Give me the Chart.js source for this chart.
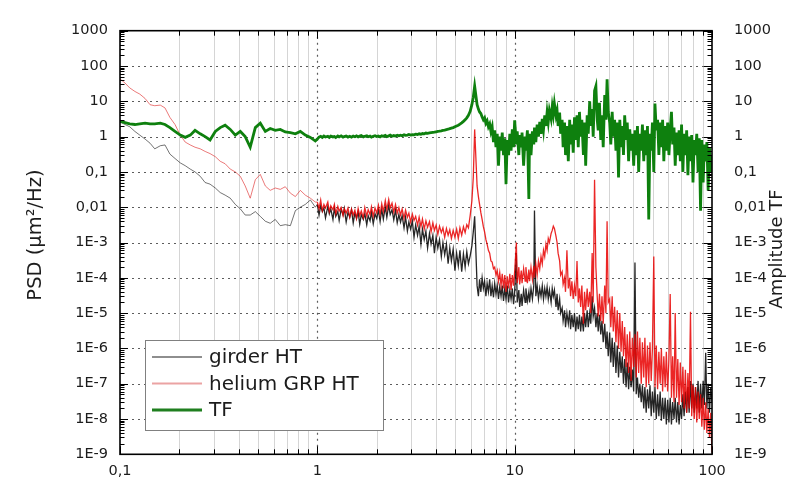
<!DOCTYPE html>
<html>
<head>
<meta charset="utf-8">
<script src="https://cdn.jsdelivr.net/npm/chart.js@4.4.1/dist/chart.umd.min.js"></script>
<style>
  html, body { margin: 0; padding: 0; background: #fff; }
  canvas { display: block; }
</style>
</head>
<body>
<canvas id="psd" width="798" height="485" style="width:798px;height:485px"></canvas>
<script>
// Frequency axis (Hz): coarse below 1 Hz, finer above
const freq = [
  0.100, 0.106, 0.112, 0.119, 0.126, 0.134, 0.142, 0.150, 0.160, 0.169,
  0.179, 0.190, 0.202, 0.214, 0.227, 0.240, 0.255, 0.270, 0.286, 0.304,
  0.322, 0.341, 0.362, 0.384, 0.407, 0.431, 0.457, 0.485, 0.514, 0.545,
  0.577, 0.612, 0.649, 0.688, 0.730, 0.774, 0.820, 0.869, 0.922, 0.977,
  1.00, 1.02, 1.04, 1.06, 1.08, 1.10, 1.13, 1.15, 1.17, 1.20,
  1.22, 1.24, 1.27, 1.29, 1.32, 1.35, 1.37, 1.40, 1.43, 1.46,
  1.49, 1.52, 1.55, 1.58, 1.61, 1.64, 1.67, 1.71, 1.74, 1.78,
  1.81, 1.85, 1.88, 1.92, 1.96, 2.00, 2.04, 2.08, 2.12, 2.16,
  2.21, 2.25, 2.30, 2.34, 2.39, 2.44, 2.49, 2.54, 2.59, 2.64,
  2.69, 2.75, 2.80, 2.86, 2.91, 2.97, 3.03, 3.09, 3.15, 3.22,
  3.28, 3.35, 3.41, 3.48, 3.55, 3.62, 3.70, 3.77, 3.85, 3.92,
  4.00, 4.08, 4.16, 4.25, 4.33, 4.42, 4.51, 4.60, 4.69, 4.78,
  4.88, 4.98, 5.08, 5.18, 5.28, 5.39, 5.50, 5.61, 5.72, 5.83,
  5.95, 6.07, 6.17, 6.27,
  6.45, 6.55, 6.64, 6.74, 6.84, 6.94, 7.04, 7.15, 7.25, 7.36,
  7.47, 7.58, 7.69, 7.81, 7.92, 8.04, 8.16, 8.28, 8.40, 8.53,
  8.65, 8.78, 8.91, 9.04, 9.17, 9.31, 9.45, 9.59, 9.73, 9.87,
  10.0, 10.2, 10.3, 10.5, 10.6, 10.8, 10.9, 11.1, 11.3, 11.4,
  11.6, 11.8, 11.9, 12.1, 12.3, 12.5, 12.6, 12.8, 13.0, 13.2,
  13.4, 13.6, 13.8, 14.0, 14.2, 14.4, 14.6, 14.8, 15.0, 15.3,
  15.5, 15.7, 15.9, 16.2, 16.4, 16.6, 16.9, 17.1, 17.4, 17.6,
  17.9, 18.1, 18.4, 18.7, 19.0, 19.2, 19.5, 19.8, 20.1, 20.4,
  20.7, 21.0, 21.3, 21.6, 21.9, 22.3, 22.6, 22.9, 23.3, 23.6,
  24.0, 24.3, 24.7, 25.0, 25.4, 25.8, 26.2, 26.5, 26.9, 27.3,
  27.7, 28.1, 28.6, 29.0, 29.4, 29.8, 30.3, 30.7, 31.2, 31.6,
  32.1, 32.6, 33.1, 33.6, 34.1, 34.6, 35.1, 35.6, 36.1, 36.7,
  37.2, 37.8, 38.3, 38.9, 39.5, 40.1, 40.7, 41.3, 41.9, 42.5,
  43.1, 43.8, 44.4, 45.1, 45.7, 46.4, 47.1, 47.8, 48.5, 49.2,
  49.9, 50.7, 51.4, 52.2, 53.0, 53.8, 54.6, 55.4, 56.2, 57.0,
  57.9, 58.7, 59.6, 60.5, 61.4, 62.3, 63.2, 64.2, 65.1, 66.1,
  67.1, 68.1, 69.1, 70.1, 71.2, 72.2, 73.3, 74.4, 75.5, 76.6,
  77.8, 78.9, 80.1, 81.3, 82.5, 83.7, 85.0, 86.2, 87.5, 88.8,
  90.2, 91.5, 92.9, 94.2, 95.6, 97.1, 98.5, 100
];

// PSD of the girder, µm²/Hz
const girderHT = [
  2.6, 2.2, 1.9, 1.4, 1.1, 0.85, 0.65, 0.45, 0.55, 0.58,
  0.32, 0.24, 0.18, 0.15, 0.12, 0.1, 0.075, 0.05, 0.045, 0.035,
  0.026, 0.022, 0.018, 0.012, 0.009, 0.006, 0.006, 0.0075, 0.0055, 0.004,
  0.0035, 0.0045, 0.003, 0.0032, 0.003, 0.008, 0.01, 0.012, 0.016, 0.01,
  0.012, 0.006, 0.011, 0.0075, 0.0095, 0.005, 0.0105, 0.0065, 0.009, 0.0045,
  0.0095, 0.0055, 0.0075, 0.0042, 0.0088, 0.006, 0.0092, 0.0038, 0.0072, 0.0052,
  0.0085, 0.0036, 0.0068, 0.0048, 0.0074, 0.0033, 0.0062, 0.0045, 0.0066, 0.0032,
  0.0058, 0.0041, 0.0072, 0.0034, 0.0065, 0.0048, 0.0082, 0.0039, 0.0088, 0.0046,
  0.0102, 0.0052, 0.0115, 0.0062, 0.0085, 0.0044, 0.0082, 0.0036, 0.0062, 0.0038,
  0.0058, 0.0026, 0.0052, 0.0021, 0.0038, 0.0024, 0.0041, 0.0014, 0.0031, 0.0016,
  0.0029, 0.0009, 0.0024, 0.0012, 0.0021, 0.0007, 0.0018, 0.0009, 0.0016, 0.0005,
  0.0014, 0.0007, 0.0012, 0.0004, 0.001, 0.00045, 0.0009, 0.00025, 0.0007, 0.0003,
  0.00065, 0.00016, 0.0005, 0.00022, 0.0006, 0.00015, 0.00048, 0.0002, 0.00055, 0.00025,
  0.00042, 0.0008, 0.002, 0.0055,
  6e-5, 3e-5, 9e-5, 4e-5, 1e-4, 5e-5, 8e-5, 3e-5, 7e-5, 4e-5,
  9e-5, 3e-5, 6e-5, 2.8e-5, 7e-5, 3.5e-5, 6e-5, 2.5e-5, 5.5e-5, 3e-5,
  6e-5, 2.2e-5, 5e-5, 2.5e-5, 6e-5, 2e-5, 4.5e-5, 2.5e-5, 5e-5, 1.8e-5,
  4e-5, 5e-4, 2e-5, 4.5e-5, 1.5e-5, 3.5e-5, 1.6e-5, 4.5e-5, 2e-5, 5e-5,
  2.2e-5, 4e-5, 2e-5, 5e-5, 2.5e-5, 6e-5, 0.008, 3e-5, 6e-5, 2.5e-5,
  5e-5, 3e-5, 6e-5, 2.5e-5, 5e-5, 3e-5, 5.5e-5, 2.5e-5, 4.5e-5, 2e-5,
  5e-5, 3e-5, 4.5e-5, 1.5e-5, 3.5e-5, 1.2e-5, 2.5e-5, 1e-5, 1.4e-5, 6e-6,
  1.2e-5, 4e-6, 1e-5, 5e-6, 1.2e-5, 3.5e-6, 9e-6, 4e-6, 1e-5, 3e-6,
  8e-6, 3.5e-6, 9e-6, 3e-6, 8e-6, 3e-6, 1e-5, 4e-6, 1.2e-5, 4e-6,
  1e-5, 5e-6, 3e-5, 8e-6, 1.4e-5, 4e-6, 1e-5, 3e-6, 9e-6, 2.5e-6,
  6e-6, 1.5e-6, 5e-6, 1e-6, 3e-6, 6e-7, 2.8e-6, 4e-7, 2e-6, 3e-7,
  1.5e-6, 2e-7, 1.2e-6, 1.5e-7, 8e-7, 2e-7, 6e-7, 1e-7, 5e-7, 8e-8,
  4e-7, 7e-8, 3e-7, 8e-8, 2.5e-7, 6e-8, 2.7e-4, 5e-8, 1.5e-7, 4e-8,
  1e-7, 3e-8, 9e-8, 2e-8, 8e-8, 1.5e-8, 7e-8, 2e-8, 9e-8, 1.2e-8,
  6e-8, 1.5e-8, 8e-8, 1e-8, 5e-8, 1.2e-8, 6e-8, 9e-9, 4e-8, 1e-8,
  4e-8, 7e-9, 3.5e-8, 8e-9, 4e-8, 7e-9, 3e-8, 1e-8, 4e-8, 8e-9,
  3e-8, 7e-9, 2.5e-8, 1e-8, 5e-8, 1.2e-8, 6e-8, 1.5e-8, 8e-8, 1.5e-8,
  1.2e-7, 2e-8, 1e-7, 1.5e-8, 8e-8, 2e-8, 1.2e-7, 1.5e-8, 1e-7, 2e-8,
  1.2e-7, 2.5e-8, 7.5e-7, 2e-8, 1e-7, 1.5e-8, 8e-8, 3e-8
];

// PSD of the helium GRP, µm²/Hz
const heliumHT = [
  43, 33, 24, 19, 16, 12, 8, 7.5, 7.8, 6.5,
  3.5, 2.2, 1.1, 0.7, 0.58, 0.5, 0.45, 0.38, 0.33, 0.27,
  0.2, 0.17, 0.12, 0.1, 0.075, 0.04, 0.018, 0.06, 0.085, 0.04,
  0.03, 0.035, 0.032, 0.038, 0.025, 0.02, 0.03, 0.022, 0.018, 0.014,
  0.014, 0.009, 0.016, 0.008, 0.012, 0.0095, 0.014, 0.0075, 0.011, 0.0085,
  0.012, 0.0065, 0.0105, 0.0078, 0.0098, 0.0058, 0.0092, 0.0068, 0.0095, 0.0052,
  0.0088, 0.006, 0.0082, 0.0048, 0.0092, 0.0058, 0.0078, 0.005, 0.0098, 0.0056,
  0.0085, 0.0062, 0.0102, 0.0055, 0.0095, 0.0068, 0.0115, 0.0062, 0.0125, 0.0075,
  0.0155, 0.0085, 0.0165, 0.0095, 0.013, 0.0072, 0.0118, 0.0068, 0.0098, 0.006,
  0.0088, 0.0048, 0.0082, 0.0052, 0.0068, 0.0038, 0.0064, 0.0042, 0.0055, 0.0031,
  0.0052, 0.0028, 0.0046, 0.0024, 0.0041, 0.0027, 0.0039, 0.002, 0.0036, 0.0022,
  0.0031, 0.0017, 0.0029, 0.0019, 0.0026, 0.0014, 0.0025, 0.0016, 0.0023, 0.0013,
  0.0022, 0.0014, 0.0024, 0.0013, 0.0026, 0.0016, 0.0028, 0.0019, 0.0032, 0.0026,
  0.0058, 0.015, 0.07, 1.6,
  0.04, 0.02, 0.012, 0.007, 0.0045, 0.0028, 0.002, 0.0012, 0.0009, 0.0006,
  0.0005, 0.0003, 0.00028, 0.00018, 0.0002, 0.00012, 0.00016, 8e-5, 0.00014, 6e-5,
  0.00013, 5e-5, 0.00012, 4e-5, 0.00011, 5e-5, 0.00013, 4.5e-5, 0.00012, 6e-5,
  0.00015, 0.001, 7e-5, 0.0002, 6.5e-5, 0.00016, 7e-5, 0.00018, 8e-5, 0.0002,
  7e-5, 0.00017, 8e-5, 0.0002, 9e-5, 0.00022, 0.0001, 0.00025, 0.00012, 0.0003,
  0.00018, 0.0004, 0.00025, 0.0006, 0.0004, 0.0009, 0.0006, 0.0013, 0.001, 0.0018,
  0.0022, 0.0029, 0.0025, 0.0015, 0.001, 0.0005, 0.0003, 0.00012, 0.00015, 6.5e-5,
  0.0001, 4e-5, 0.0006, 5e-5, 0.0001, 3e-5, 8e-5, 2.5e-5, 6e-5, 3e-5,
  0.0003, 2e-5, 5e-5, 1.5e-5, 6e-5, 5e-6, 4e-5, 1.2e-5, 5e-5, 1.5e-5,
  4e-5, 1e-5, 0.0005, 2e-5, 0.06, 0.0002, 3e-5, 8e-6, 3.5e-5, 6e-6,
  3e-5, 5e-6, 6e-5, 1e-5, 0.004, 2e-5, 2.5e-5, 4e-6, 3e-5, 3e-6,
  1.5e-5, 1.5e-6, 1.2e-5, 1e-6, 1e-5, 8e-7, 6e-6, 6e-7, 4e-6, 3e-7,
  2.5e-6, 2e-7, 3e-6, 1.2e-7, 2e-6, 3e-7, 2.5e-6, 1.5e-7, 3e-6, 2e-7,
  2e-6, 1e-7, 1.5e-6, 1.5e-7, 2e-6, 8e-8, 1.2e-6, 1e-7, 1.5e-6, 1.2e-7,
  1e-6, 4e-4, 8e-8, 1.2e-6, 7e-8, 8e-7, 1e-7, 1e-6, 6e-8, 6e-7,
  8e-8, 8e-7, 6e-8, 5e-7, 3.5e-5, 4e-8, 6e-7, 3e-8, 1e-5, 4e-8,
  5e-7, 2.5e-8, 4e-7, 3e-8, 3e-7, 2e-8, 2.5e-7, 1.5e-8, 2e-7, 2e-8,
  1.1e-5, 1.2e-8, 9e-8, 1e-8, 8e-8, 8e-9, 6e-8, 1e-8, 5e-8, 6e-9,
  4e-8, 5e-9, 3e-8, 4e-9, 2e-8, 3e-9, 1.5e-8, 1.1e-9
];

// Transfer function amplitude
const tf = [
  2.7, 2.5, 2.3, 2.2, 2.3, 2.4, 2.3, 2.3, 2.4, 2.2,
  1.8, 1.4, 1.1, 0.95, 1.1, 1.5, 1.2, 1.0, 0.8, 1.4,
  1.8, 2.1, 1.6, 1.1, 1.4, 1.0, 0.5, 1.8, 2.4, 1.4,
  1.7, 1.5, 1.6, 1.35, 1.3, 1.2, 1.4, 1.1, 0.95, 0.75,
  0.85, 0.97, 1.02, 0.95, 1.04, 0.97, 1.02, 0.95, 1.03, 0.98,
  1.01, 0.94, 1.04, 0.98, 1.05, 0.96, 1.0, 1.04, 0.97, 1.02,
  0.96, 1.03, 0.99, 1.05, 0.98, 1.03, 1.07, 0.98, 1.02, 1.06,
  0.99, 1.03, 0.97, 1.02, 1.06, 1.0, 1.04, 0.98, 1.05, 1.02,
  1.08, 1.0, 1.05, 1.1, 1.02, 1.07, 1.04, 1.09, 1.05, 1.1,
  1.06, 1.12, 1.08, 1.1, 1.15, 1.1, 1.14, 1.12, 1.17, 1.15,
  1.2, 1.17, 1.22, 1.2, 1.26, 1.24, 1.28, 1.3, 1.32, 1.34,
  1.37, 1.4, 1.42, 1.46, 1.5, 1.53, 1.58, 1.62, 1.68, 1.74,
  1.8, 1.9, 2.0, 2.1, 2.25, 2.45, 2.7, 3.0, 3.4, 4.0,
  5.2, 8.0, 13, 27,
  8, 6, 5, 4.5, 3.6, 3.0, 3.4, 2.4, 2.8, 1.9,
  2.3, 1.4, 1.9, 0.7, 1.5, 0.5, 1.2, 0.15, 1.0, 0.4,
  1.3, 0.3, 0.9, 0.045, 0.8, 0.3, 1.2, 0.4, 1.6, 0.5,
  2.9, 0.6, 1.4, 0.3, 1.1, 0.5, 1.3, 0.15, 1.0, 0.4,
  1.5, 0.017, 1.2, 0.3, 1.4, 0.6, 1.8, 0.7, 2.2, 1.0,
  2.6, 1.2, 3.2, 1.6, 4.0, 2.0, 4.8, 2.6, 5.5, 3.2,
  7.0, 4.2, 8.6, 4.0, 5.5, 2.0, 4.8, 1.2, 3.0, 0.5,
  2.5, 0.3, 2.0, 0.2, 3.0, 0.6, 2.2, 0.35, 3.5, 0.8,
  4.0, 0.5, 5.0, 1.0, 3.0, 0.3, 2.5, 0.15, 4.0, 1.2,
  10, 2.0, 6.0, 1.0, 20, 27, 3.0, 1.5, 9.0, 0.8,
  4.0, 0.5, 15, 3.0, 42, 5.0, 2.5, 0.6, 5.0, 1.0,
  3.0, 0.4, 2.5, 0.07, 3.0, 0.5, 2.0, 0.3, 4.0, 0.8,
  2.5, 0.2, 1.6, 0.4, 1.2, 0.15, 1.5, 0.3, 2.0, 0.1,
  1.2, 0.4, 2.2, 0.2, 1.5, 0.3, 2.0, 0.0045, 1.2, 0.4,
  2.5, 0.1, 8.6, 1.5, 3.0, 0.3, 2.5, 0.5, 3.0, 0.2,
  2.0, 0.4, 2.5, 0.3, 1.5, 5.0, 0.6, 1.8, 0.15, 1.3,
  0.3, 1.5, 0.2, 2.2, 0.1, 1.2, 0.3, 1.5, 0.08, 1.0,
  0.2, 1.1, 0.05, 0.8, 0.3, 1.2, 0.1, 0.9, 0.008, 0.8,
  0.05, 0.6, 0.2, 0.7, 0.03, 0.5, 0.1, 0.3
];

const seriesNames = ['girder HT', 'helium GRP HT', 'TF'];

const xTickValues = [0.1, 1, 10, 100];
const xTickLabels = ['0,1', '1', '10', '100'];
const yTickValues = [1e3, 1e2, 1e1, 1, 1e-1, 1e-2, 1e-3, 1e-4, 1e-5, 1e-6, 1e-7, 1e-8, 1e-9];
const yTickLabels = ['1000', '100', '10', '1', '0,1', '0,01', '1E-3', '1E-4', '1E-5', '1E-6', '1E-7', '1E-8', '1E-9'];

const leftTitle = 'PSD (µm²/Hz)';
const rightTitle = 'Amplitude TF';

const FONT = 'DejaVu Sans';
const TEXT = '#1c1c1c';

function labelFor(values, labels, v) {
  for (let i = 0; i < values.length; i++) {
    if (Math.abs(Math.log10(v) - Math.log10(values[i])) < 1e-6) return labels[i];
  }
  return '';
}

function points(ys) {
  return freq.map((f, i) => ({ x: f, y: ys[i] }));
}

// sparse low-frequency stretch drawn lighter and thinner than the dense part above 1 Hz
function tone(light, dense) {
  return (c) => (c.p0.parsed.x < 1 ? light : dense);
}

const decadeTicks = (values) => (scale) => {
  scale.ticks = values.map(v => ({ value: v }));
};

// Grid, inward tick marks, frame, legend and axis titles
const framePlugin = {
  id: 'frame',
  beforeDatasetsDraw(chart) {
    const { ctx, chartArea: a, scales: { x, y } } = chart;
    ctx.save();
    ctx.strokeStyle = '#d5d5d5';
    ctx.lineWidth = 1;
    ctx.beginPath();
    [0.1, 1, 10].forEach(d => {
      for (let m = 2; m <= 9; m++) {
        const px = Math.round(x.getPixelForValue(m * d)) + 0.5;
        ctx.moveTo(px, a.top);
        ctx.lineTo(px, a.bottom);
      }
    });
    ctx.stroke();
    ctx.setLineDash([2, 4]);
    ctx.strokeStyle = '#5c5c5c';
    ctx.lineWidth = 1.2;
    ctx.beginPath();
    [1, 10].forEach(v => {
      const px = Math.round(x.getPixelForValue(v)) + 0.5;
      ctx.moveTo(px, a.top);
      ctx.lineTo(px, a.bottom);
    });
    yTickValues.forEach(v => {
      if (v >= 1e3 || v <= 1e-9) return;
      const py = Math.round(y.getPixelForValue(v)) + 0.5;
      ctx.moveTo(a.left, py);
      ctx.lineTo(a.right, py);
    });
    ctx.stroke();
    ctx.restore();
  },
  afterDatasetsDraw(chart) {
    const { ctx, chartArea: a, scales: { x, y } } = chart;
    ctx.save();
    ctx.strokeStyle = '#000';
    ctx.lineWidth = 1;
    ctx.beginPath();
    for (let e = -9; e <= 3; e++) {
      for (let m = 1; m <= 9; m++) {
        const v = m * Math.pow(10, e);
        if (e === 3 && m > 1) break;
        const py = Math.round(y.getPixelForValue(v)) + 0.5;
        const len = m === 1 ? 8 : 4.5;
        ctx.moveTo(a.left, py); ctx.lineTo(a.left + len, py);
        ctx.moveTo(a.right, py); ctx.lineTo(a.right - len, py);
      }
    }
    for (let e = -1; e <= 2; e++) {
      for (let m = 1; m <= 9; m++) {
        const v = m * Math.pow(10, e);
        if (e === 2 && m > 1) break;
        const px = Math.round(x.getPixelForValue(v)) + 0.5;
        const len = m === 1 ? 8 : 5;
        ctx.moveTo(px, a.top); ctx.lineTo(px, a.top + len);
        ctx.moveTo(px, a.bottom); ctx.lineTo(px, a.bottom - len);
      }
    }
    ctx.stroke();
    ctx.lineWidth = 1.6;
    ctx.strokeRect(a.left, a.top, a.right - a.left, a.bottom - a.top);

    // legend
    const lx = 145.5, ly = 340.5, lw = 238, lh = 90;
    ctx.fillStyle = '#fff';
    ctx.fillRect(lx, ly, lw, lh);
    ctx.strokeStyle = '#808080';
    ctx.lineWidth = 1;
    ctx.strokeRect(lx, ly, lw, lh);
    ctx.font = '20px "' + FONT + '"';
    ctx.textBaseline = 'middle';
    ctx.textAlign = 'left';
    const rows = [357, 383.5, 410];
    chart.data.datasets
      .slice()
      .sort((p, q) => p.legendIndex - q.legendIndex)
      .forEach((ds, i) => {
        ctx.strokeStyle = ds.legendColor;
        ctx.lineWidth = ds.legendWidth;
        ctx.beginPath();
        ctx.moveTo(152, rows[i]);
        ctx.lineTo(202, rows[i]);
        ctx.stroke();
        ctx.fillStyle = TEXT;
        ctx.fillText(ds.label, 209, rows[i] + 1);
      });

    // axis titles, both reading bottom to top
    ctx.fillStyle = TEXT;
    ctx.textAlign = 'center';
    ctx.textBaseline = 'middle';
    ctx.save();
    ctx.translate(36, 235);
    ctx.rotate(-Math.PI / 2);
    ctx.font = '19.5px "' + FONT + '"';
    ctx.fillText(leftTitle, 0, 0);
    ctx.restore();
    ctx.save();
    ctx.translate(777, 249);
    ctx.rotate(-Math.PI / 2);
    ctx.font = '18px "' + FONT + '"';
    ctx.fillText(rightTitle, 0, 0);
    ctx.restore();
    ctx.restore();
  }
};

const tickFont = { family: FONT, size: 14.5 };

new Chart(document.getElementById('psd'), {
  type: 'line',
  data: {
    datasets: [
      {
        label: seriesNames[2], data: points(tf), yAxisID: 'y2',
        borderColor: '#0e800e', borderWidth: 2.8, order: 0,
        legendColor: '#1f7f1f', legendWidth: 3, legendIndex: 2
      },
      {
        label: seriesNames[1], data: points(heliumHT), yAxisID: 'y',
        borderColor: 'rgba(228,0,0,0.85)', borderWidth: 1, order: 1,
        segment: {
          borderColor: tone('rgba(222,40,40,0.62)', 'rgba(232,0,0,0.85)'),
          borderWidth: tone(1, 1.3)
        },
        legendColor: '#eba3a3', legendWidth: 2, legendIndex: 1
      },
      {
        label: seriesNames[0], data: points(girderHT), yAxisID: 'y',
        borderColor: 'rgba(0,0,0,0.85)', borderWidth: 1, order: 2,
        segment: {
          borderColor: tone('rgba(0,0,0,0.55)', 'rgba(0,0,0,0.85)'),
          borderWidth: tone(1, 1.3)
        },
        legendColor: '#8e8e8e', legendWidth: 2, legendIndex: 0
      }
    ]
  },
  options: {
    responsive: false,
    animation: false,
    events: [],
    layout: { padding: { top: 18, right: 0, bottom: 0, left: 0 } },
    elements: { point: { radius: 0 }, line: { tension: 0 } },
    plugins: { legend: { display: false }, tooltip: { enabled: false } },
    scales: {
      x: {
        type: 'logarithmic', min: 0.1, max: 100,
        afterBuildTicks: decadeTicks(xTickValues),
        afterFit: (s) => { s.height = 30; },
        grid: { display: false, drawTicks: false },
        border: { display: false },
        ticks: {
          autoSkip: false, maxRotation: 0, padding: 8,
          font: tickFont, color: TEXT,
          callback: (v) => labelFor(xTickValues, xTickLabels, v)
        }
      },
      y: {
        type: 'logarithmic', position: 'left', min: 1e-9, max: 1e3,
        afterBuildTicks: decadeTicks(yTickValues),
        afterFit: (s) => { s.width = 120; },
        grid: { display: false, drawTicks: false },
        border: { display: false },
        ticks: {
          autoSkip: false, padding: 12,
          font: tickFont, color: TEXT,
          callback: (v) => labelFor(yTickValues, yTickLabels, v)
        }
      },
      y2: {
        type: 'logarithmic', position: 'right', min: 1e-9, max: 1e3,
        afterBuildTicks: decadeTicks(yTickValues),
        afterFit: (s) => { s.width = 86; },
        grid: { display: false, drawTicks: false },
        border: { display: false },
        ticks: {
          autoSkip: false, padding: 22,
          font: tickFont, color: TEXT,
          callback: (v) => labelFor(yTickValues, yTickLabels, v)
        }
      }
    }
  },
  plugins: [framePlugin]
});
</script>
</body>
</html>
